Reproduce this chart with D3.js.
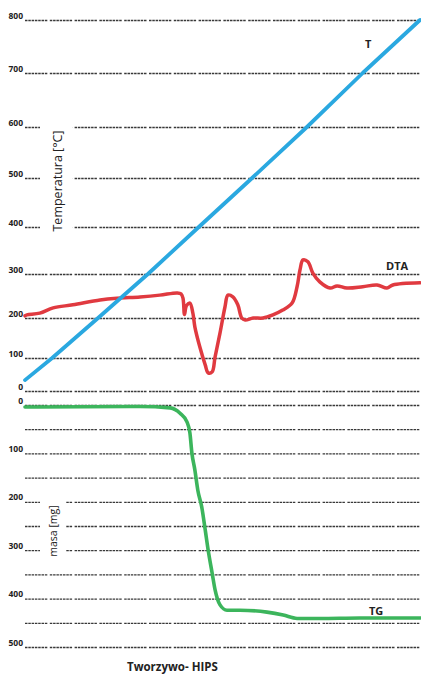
<!DOCTYPE html>
<html>
<head>
<meta charset="utf-8">
<script src="https://cdn.jsdelivr.net/npm/d3@7"></script>
<style>
  html, body { margin: 0; padding: 0; background: #fff; }
  svg { display: block; }
  text { font-family: "Open Sans", "DejaVu Sans", sans-serif; fill: #222; }
</style>
</head>
<body>
<script>
// Thermal analysis of HIPS: temperature (T), DTA signal and mass loss (TG)
// all recorded against the same time base (min).

const W = 421, H = 675;

// Upper panel grid, °C
const tempTicks = [0, 100, 200, 300, 400, 500, 600, 700, 800];
// Lower panel grid, mg (labels every 100)
const massTicks = [0, 50, 100, 150, 200, 250, 300, 350, 400, 450, 500];
const massLabels = [0, 100, 200, 300, 400, 500];

// T — furnace temperature, °C
const tTime = [0, 5.5, 14.8, 24.9, 35.2, 46.0, 57.1, 68.4, 80];
const tTemp = [33, 100, 200, 300, 400, 500, 600, 700, 800];

// DTA — read against the temperature grid
const dtaTime = [0, 0.4, 3.0, 5.7, 9.7, 15.2, 18.6, 23.3, 27.3, 30.8, 31.6, 32.0, 32.3, 32.7, 33.4,
                 34.0, 34.4, 35.4, 36.5, 37.1, 37.9, 38.5, 39.5, 40.5, 41.1, 42.1, 43.1, 43.9, 44.6,
                 46.2, 48.2, 50.2, 52.2, 54.1, 55.1, 55.7, 56.3, 57.3, 58.3, 59.7, 61.8, 63.2, 65.2,
                 68.4, 71.3, 73.3, 74.5, 80];
const dtaVal  = [205, 207, 211, 223, 230, 241, 245, 248, 252, 257, 255, 245, 208, 228, 234,
                 211, 178, 128, 79, 55, 58, 103, 163, 225, 252, 248, 230, 200, 195,
                 200, 200, 207, 218, 234, 271, 309, 330, 326, 302, 282, 268, 273, 268,
                 271, 275, 268, 275, 280];

// TG — mass loss, mg
const tgTime = [0, 0.4, 23.3, 29.4, 31.4, 32.8, 33.4, 33.8, 34.4, 35.0, 35.8, 36.5, 37.1, 37.9,
                38.5, 39.5, 40.9, 43.5, 49.0, 52.3, 55.1, 59.7, 67.8, 80];
const tgMass = [4, 4, 3, 6, 17, 35, 58, 99, 134, 176, 211, 258, 300, 347,
                382, 413, 424, 424, 428, 434, 441, 441, 440, 440];

const svg = d3.select("body").append("svg")
  .attr("width", W).attr("height", H);

const x = d3.scaleLinear().domain([0, 80]).range([25, 420]);
// the printed temperature grid is not evenly spaced
const yT = d3.scaleLinear().domain(tempTicks)
  .range([391, 358, 318, 274, 227, 178, 127, 73, 20]);
const yM = d3.scaleLinear().domain([0, 500]).range([405, 647]);

const gridLen = W - 25;

function styleAxis(g) {
  g.select(".domain").remove();
  g.selectAll(".tick line")
    .attr("stroke", "#383838")
    .attr("stroke-width", 1.3)
    .attr("stroke-dasharray", "2.5,0.8,2.5,0.8,2.5,0.8,2.5,0.8,2.5,0.8,2.5,0.8,2.5,2.5");
  g.selectAll(".tick text")
    .attr("x", -2)
    .attr("dy", "-2px")
    .style("font-size", "8.5px")
    .style("font-weight", "bold")
    .attr("fill", "#333");
}

svg.append("g")
  .attr("transform", "translate(25,0)")
  .call(d3.axisLeft(yT).tickValues(tempTicks).tickSize(-gridLen).tickPadding(2))
  .call(styleAxis);

svg.append("g")
  .attr("transform", "translate(25,0)")
  .call(d3.axisLeft(yM).tickValues(massTicks).tickSize(-gridLen).tickPadding(2)
    .tickFormat(d => massLabels.includes(d) ? d : ""))
  .call(styleAxis);

// axis titles sit in a break of the grid lines
svg.append("rect").attr("x", 40).attr("y", 110).attr("width", 32).attr("height", 140).attr("fill", "#fff");
svg.append("rect").attr("x", 40).attr("y", 488).attr("width", 26).attr("height", 76).attr("fill", "#fff");

svg.append("text")
  .attr("transform", "translate(62,181) rotate(-90)")
  .attr("text-anchor", "middle")
  .style("font-size", "12.5px")
  .text("Temperatura [°C]");

svg.append("text")
  .attr("transform", "translate(57,531) rotate(-90)")
  .attr("text-anchor", "middle")
  .style("font-size", "10.5px")
  .text("masa [mg]");

// curves
const tLine = d3.line().x((d, i) => x(tTime[i])).y(d => yT(d));
const dtaLine = d3.line().x((d, i) => x(dtaTime[i])).y(d => yT(d)).curve(d3.curveCatmullRom.alpha(0.5));
const tgLine = d3.line().x((d, i) => x(tgTime[i])).y(d => yM(d)).curve(d3.curveMonotoneX);

svg.append("path").attr("d", tgLine(tgMass))
  .attr("fill", "none").attr("stroke", "#3cb55c").attr("stroke-width", 3.6)
  .attr("stroke-linecap", "round").attr("stroke-linejoin", "round");

svg.append("path").attr("d", dtaLine(dtaVal))
  .attr("fill", "none").attr("stroke", "#e03a40").attr("stroke-width", 3.5)
  .attr("stroke-linecap", "round").attr("stroke-linejoin", "round");

svg.append("path").attr("d", tLine(tTemp))
  .attr("fill", "none").attr("stroke", "#2aa8e0").attr("stroke-width", 3.8)
  .attr("stroke-linecap", "round").attr("stroke-linejoin", "round");

// curve labels
const lab = (tx, ty, s) => svg.append("text").attr("x", tx).attr("y", ty)
  .style("font-size", "11px").style("font-weight", "bold").text(s);
lab(365, 48, "T");
lab(386, 270, "DTA");
lab(369, 615, "TG");

svg.append("text")
  .attr("x", 127).attr("y", 671)
  .style("font-size", "11.5px").style("font-weight", "bold")
  .text("Tworzywo- HIPS");
</script>
</body>
</html>
